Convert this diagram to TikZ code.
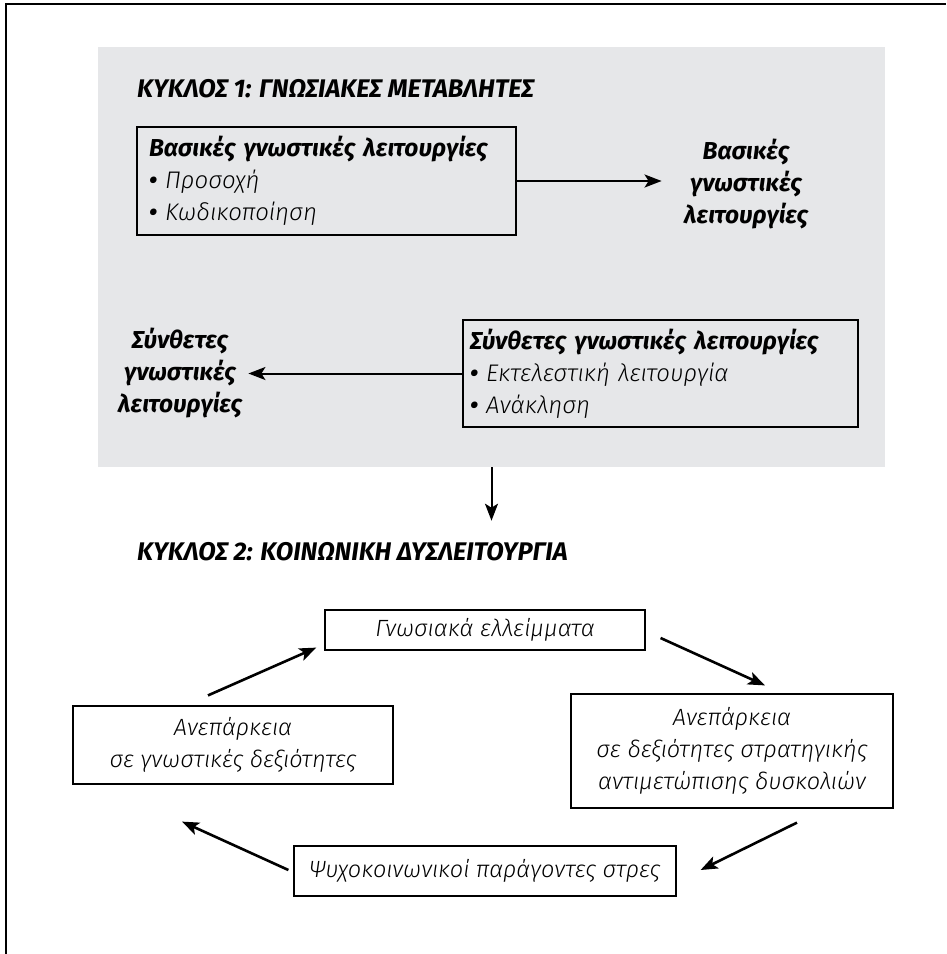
\documentclass[tikz,border=0pt]{standalone}
\usepackage{fontspec}
\setmainfont{Fira Sans}
\newfontfamily\headfont{Fira Sans}
\IfFontExistsTF{Fira Sans Book}
  {\newfontfamily\lightfont{Fira Sans Book}}
  {\newfontfamily\lightfont{Fira Sans Light}}
\usetikzlibrary{arrows.meta,positioning}
\definecolor{panelgray}{RGB}{230,231,233}
\newcommand{\dotitem}{{\headfont\bfseries\textbullet}\ }

\begin{document}
\begin{tikzpicture}[x=1pt, y=-1pt, >={Stealth[length=17pt, width=13pt, inset=4pt]},
  panel/.style={fill=panelgray, inner sep=0pt, minimum width=787pt, minimum height=420pt},
  head/.style={font=\headfont\bfseries\itshape\fontsize{25.5}{32}\selectfont, inner sep=0pt, anchor=base west},
  big/.style={font=\headfont\bfseries\itshape\fontsize{24.5}{32}\selectfont, inner sep=0pt, align=center},
  listbox/.style={draw, line width=1.2pt, align=left, inner ysep=0pt,
    font=\lightfont\itshape\fontsize{24}{32}\selectfont},
  cyc/.style={draw, line width=1.2pt, align=center, inner sep=0pt,
    font=\lightfont\itshape\fontsize{23.5}{32}\selectfont},
  flow/.style={->, line width=2pt},
  loop/.style={->, line width=2.6pt}]
\useasboundingbox (0,0) rectangle (946,954);
\draw[line width=1.5pt] (6,954) -- (6,4) -- (946,4);

% cycle 1
\node[panel] (c1) at (491.5,257) {};
\node[head] (t1) at (137,97) {ΚΥΚΛΟΣ 1: ΓΝΩΣΙΑΚΕΣ ΜΕΤΑΒΛΗΤΕΣ};
\node[listbox, text width=355pt, inner xsep=12pt, minimum height=108pt] (bas) at (326.5,181)
  {{\headfont\bfseries\fontsize{24.5}{32}\selectfont Βασικές γνωστικές λειτουργίες}\\
   \dotitem Προσοχή\\
   \dotitem Κωδικοποίηση};
\node[big] (basl) at (746,184) {Βασικές\\γνωστικές\\λειτουργίες};
\draw[flow, shorten >=22pt] (bas.east) -- (bas.east -| basl.west);

\node[listbox, text width=381pt, inner xsep=7pt, minimum height=107pt] (syn) at (660.5,373.5)
  {{\headfont\bfseries\fontsize{24.5}{32}\selectfont Σύνθετες γνωστικές λειτουργίες}\\
   \dotitem Εκτελεστική λειτουργία\\
   \dotitem Ανάκληση};
\node[big] (synl) at (180,373) {Σύνθετες\\γνωστικές\\λειτουργίες};
\draw[flow, shorten >=6pt] (syn.west) -- (syn.west -| synl.east);

% cycle 2
\node[head] (t2) at (137,560) {ΚΥΚΛΟΣ 2: ΚΟΙΝΩΝΙΚΗ ΔΥΣΛΕΙΤΟΥΡΓΙΑ};
\draw[flow, shorten >=21pt] (c1.south) -- (c1.south |- t2.north);

\node[cyc, minimum width=320pt, minimum height=40pt] (gap) at (485,630) {Γνωσιακά ελλείμματα};
\node[cyc, minimum width=320pt, minimum height=78pt] (cog) at (233,745)
  {Ανεπάρκεια\\σε γνωστικές δεξιότητες};
\node[cyc, minimum width=322pt, minimum height=114pt] (cope) at (732,751)
  {Ανεπάρκεια\\σε δεξιότητες στρατηγικής\\αντιμετώπισης δυσκολιών};
\node[cyc, minimum width=382pt, minimum height=50pt] (stress) at (485,871)
  {Ψυχοκοινωνικοί παράγοντες στρες};

\draw[loop] ([shift={(-25,-10)}]cog.north) -- ([shift={(-8,-3)}]gap.south west);
\draw[loop] ([shift={(15,8)}]gap.east) -- ([shift={(33,-8)}]cope.north);
\draw[loop] ([shift={(65,14)}]cope.south) -- ([shift={(24,-1)}]stress.east);
\draw[loop] ([shift={(-5,-1)}]stress.west) -- ([shift={(-51,37)}]cog.south);
\end{tikzpicture}
\end{document}
